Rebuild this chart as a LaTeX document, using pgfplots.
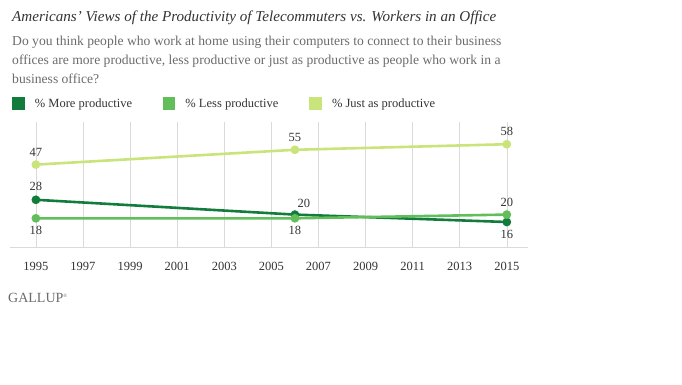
\documentclass[border=0pt]{standalone}
\usepackage{pgfplots}
\pgfplotsset{compat=1.18}
\usepackage{fontspec}
\setmainfont{Liberation Serif}
\definecolor{cMore}{HTML}{137B3C}
\definecolor{cLess}{HTML}{62BE5A}
\definecolor{cJust}{HTML}{C8E47A}
\definecolor{cTitle}{HTML}{333333}
\definecolor{cSub}{HTML}{6B6B6B}
\definecolor{cGrid}{HTML}{DADADA}
\begin{document}
\begin{tikzpicture}
\useasboundingbox (0,0) rectangle (682pt,-384pt);
\node[anchor=base west, inner sep=0pt, font=\fontsize{15.1}{18}\selectfont\itshape, text=cTitle] at (12pt,-21pt) {Americans' Views of the Productivity of Telecommuters vs. Workers in an Office};
\node[anchor=base west, inner sep=0pt, font=\fontsize{13.6}{16}\selectfont, text=cSub] at (12pt,-45pt) {Do you think people who work at home using their computers to connect to their business};
\node[anchor=base west, inner sep=0pt, font=\fontsize{13.6}{16}\selectfont, text=cSub] at (12pt,-64pt) {offices are more productive, less productive or just as productive as people who work in a};
\node[anchor=base west, inner sep=0pt, font=\fontsize{13.6}{16}\selectfont, text=cSub] at (12pt,-83pt) {business office?};
\node[anchor=west, inner sep=0pt, font=\fontsize{14}{16}\selectfont, text=cSub] at (8pt,-298pt) {GALLUP\textsuperscript{\fontsize{5}{6}\selectfont ®}};
\begin{axis}[
  at={(10pt,-247pt)}, anchor=south west,
  scale only axis, width=518pt, height=125pt,
  xmin=1993.9, xmax=2015.9, ymin=2.5, ymax=70,
  axis x line*=bottom, axis y line=none,
  x axis line style={draw=cGrid, line width=0.9pt, -},
  xtick={1995,1997,...,2015},
  /pgf/number format/1000 sep={},
  /pgf/number format/assume math mode=true,
  xticklabel style={font=\fontsize{12.5}{14}\selectfont, text=cTitle, yshift=-12pt},
  major tick length=0pt,
  xmajorgrids, grid style={draw=cGrid, line width=0.6pt},
  clip=false,
  legend columns=3,
  legend style={at={(0.004,1.198)}, anchor=north west, draw=none, fill=none,
    inner sep=0pt, font=\fontsize{12.5}{15}\selectfont, text=cTitle,
    nodes={inner sep=0pt},
    /tikz/every odd column/.append style={column sep=10pt}},
  legend image code/.code={\fill[#1, mark=none] (0pt,-5pt) rectangle (10pt,5pt);},
  every axis plot/.append style={line width=2.6pt, mark=*, mark size=3pt},
]
\addplot[color=cMore, mark options={fill=cMore, draw=cMore}] coordinates {(1995,28) (2006,20) (2015,16)};
\addlegendentry{\makebox[128pt][l]{\% More productive}}
\addplot[color=cLess, mark options={fill=cLess, draw=cLess}] coordinates {(1995,18) (2006,18) (2015,20)};
\addlegendentry{\makebox[124pt][l]{\% Less productive}}
\addplot[color=cJust, mark options={fill=cJust, draw=cJust}] coordinates {(1995,47) (2006,55) (2015,58)};
\addlegendentry{\% Just as productive}
\begin{scope}[every node/.style={font=\fontsize{12.5}{14}\selectfont, text=cTitle, inner sep=0pt}]
\node at (axis cs:1995,47) [yshift=12pt] {47};
\node at (axis cs:2006,55) [yshift=12pt] {55};
\node at (axis cs:2015,58) [yshift=13pt] {58};
\node at (axis cs:1995,28) [yshift=13pt] {28};
\node at (axis cs:2006,20) [yshift=11pt, xshift=9pt] {20};
\node at (axis cs:2015,20) [yshift=12pt] {20};
\node at (axis cs:1995,18) [yshift=-12pt] {18};
\node at (axis cs:2006,18) [yshift=-12pt] {18};
\node at (axis cs:2015,16) [yshift=-12pt] {16};
\end{scope}
\end{axis}
\end{tikzpicture}
\end{document}
